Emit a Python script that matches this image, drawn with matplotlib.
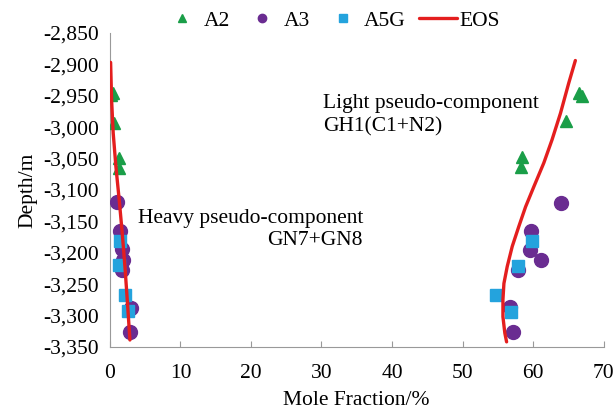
import matplotlib
matplotlib.use("Agg")
import matplotlib.pyplot as plt
from matplotlib.ticker import FuncFormatter
import numpy as np

plt.rcParams['font.family'] = ['Liberation Serif', 'DejaVu Serif']

# A2 (triangles)
a2_x = [0.1, 0.5, 0.6, 1.3, 1.3, 66.5, 67.0, 64.7, 58.5, 58.3]
a2_y = [-2949, -2946, -2993, -3050, -3065, -2945, -2951, -2990, -3048, -3064]
# A3 (circles)
a3_x = [1.0, 1.5, 1.75, 1.9, 1.65, 3.0, 2.8, 63.9, 59.7, 59.5, 61.1, 57.9, 56.7, 57.2]
a3_y = [-3120, -3166, -3194, -3211, -3228, -3288, -3326, -3121, -3165, -3196, -3211, -3227, -3286, -3326]
# A5G (squares)
a5_x = [1.5, 1.3, 2.2, 2.5, 59.9, 57.8, 54.8, 56.9]
a5_y = [-3181, -3219, -3267, -3293, -3182, -3221, -3268, -3295]
# EOS heavy (left) and light (right)
eos_h_x = [0.1, 0.24, 0.47, 0.85, 1.32, 1.75, 2.13, 2.46, 2.84]
eos_h_y = [-2897, -2957, -3010, -3063, -3116, -3169, -3222, -3275, -3339]
eos_l_x = [66.0, 65.06, 63.89, 62.70, 61.53, 60.11, 58.94, 57.99, 57.05, 56.34, 55.87, 55.73, 55.73, 56.0, 56.25]
eos_l_y = [-2894, -2930, -2978, -3020, -3057, -3095, -3127, -3158, -3190, -3222, -3249, -3275, -3302, -3328, -3342]

fig = plt.figure(figsize=(6.14, 4.11), dpi=100)
ax = fig.add_axes([0.179, 0.156, 0.804, 0.764])

green = '#1a9e48'
purple = '#6a2c91'
blue = '#24a3dd'
red = '#e41e1e'

ax.plot(a2_x, a2_y, linestyle='none', marker='^', color=green, markersize=9, label='A2', zorder=3)
ax.plot(a3_x, a3_y, linestyle='none', marker='o', color=purple, markersize=10, label='A3', zorder=3)
ax.plot(a5_x, a5_y, linestyle='none', marker='s', color=blue, markersize=8.5, label='A5G', zorder=4)
ax.plot(eos_h_x, eos_h_y, color=red, linewidth=2.4, label='EOS', zorder=5, solid_capstyle='round')
ax.plot(eos_l_x, eos_l_y, color=red, linewidth=2.4, zorder=5, solid_capstyle='round')

ax.set_xlim(0, 70)
ax.set_ylim(-3350, -2850)
ax.set_xticks(np.arange(0, 71, 10))
ax.set_yticks(np.arange(-3350, -2849, 50))
ax.yaxis.set_major_formatter(FuncFormatter(lambda v, p: f"{int(v):,}"))

for s in ['top', 'right']:
    ax.spines[s].set_visible(False)
for s in ['left', 'bottom']:
    ax.spines[s].set_color('#999999')
    ax.spines[s].set_linewidth(0.8)
fs = 15.5
ax.tick_params(axis='x', direction='in', length=4, color='#999999', labelsize=fs, pad=12)
ax.tick_params(axis='y', length=0, labelsize=fs, pad=8)

ax.set_xlabel('Mole Fraction/%', fontsize=fs, labelpad=6)
ax.set_ylabel('Depth/m', fontsize=fs, labelpad=4)

ax.text(30.2, -2963, 'Light pseudo-component', ha='left', va='center', fontsize=fs)
ax.text(30.2, -3000, 'GH1(C1+N2)', ha='left', va='center', fontsize=fs)
ax.text(35.9, -3145, 'Heavy pseudo-component', ha='right', va='center', fontsize=fs)
ax.text(35.9, -3180, 'GN7+GN8', ha='right', va='center', fontsize=fs)

leg = fig.legend(loc='center', bbox_to_anchor=(0.54, 0.949), ncol=4, frameon=False,
                 fontsize=fs, handlelength=1.75, columnspacing=0.65, handletextpad=0.1,
                 markerscale=0.6, borderpad=0)

fig.savefig('out.png', dpi=100)
